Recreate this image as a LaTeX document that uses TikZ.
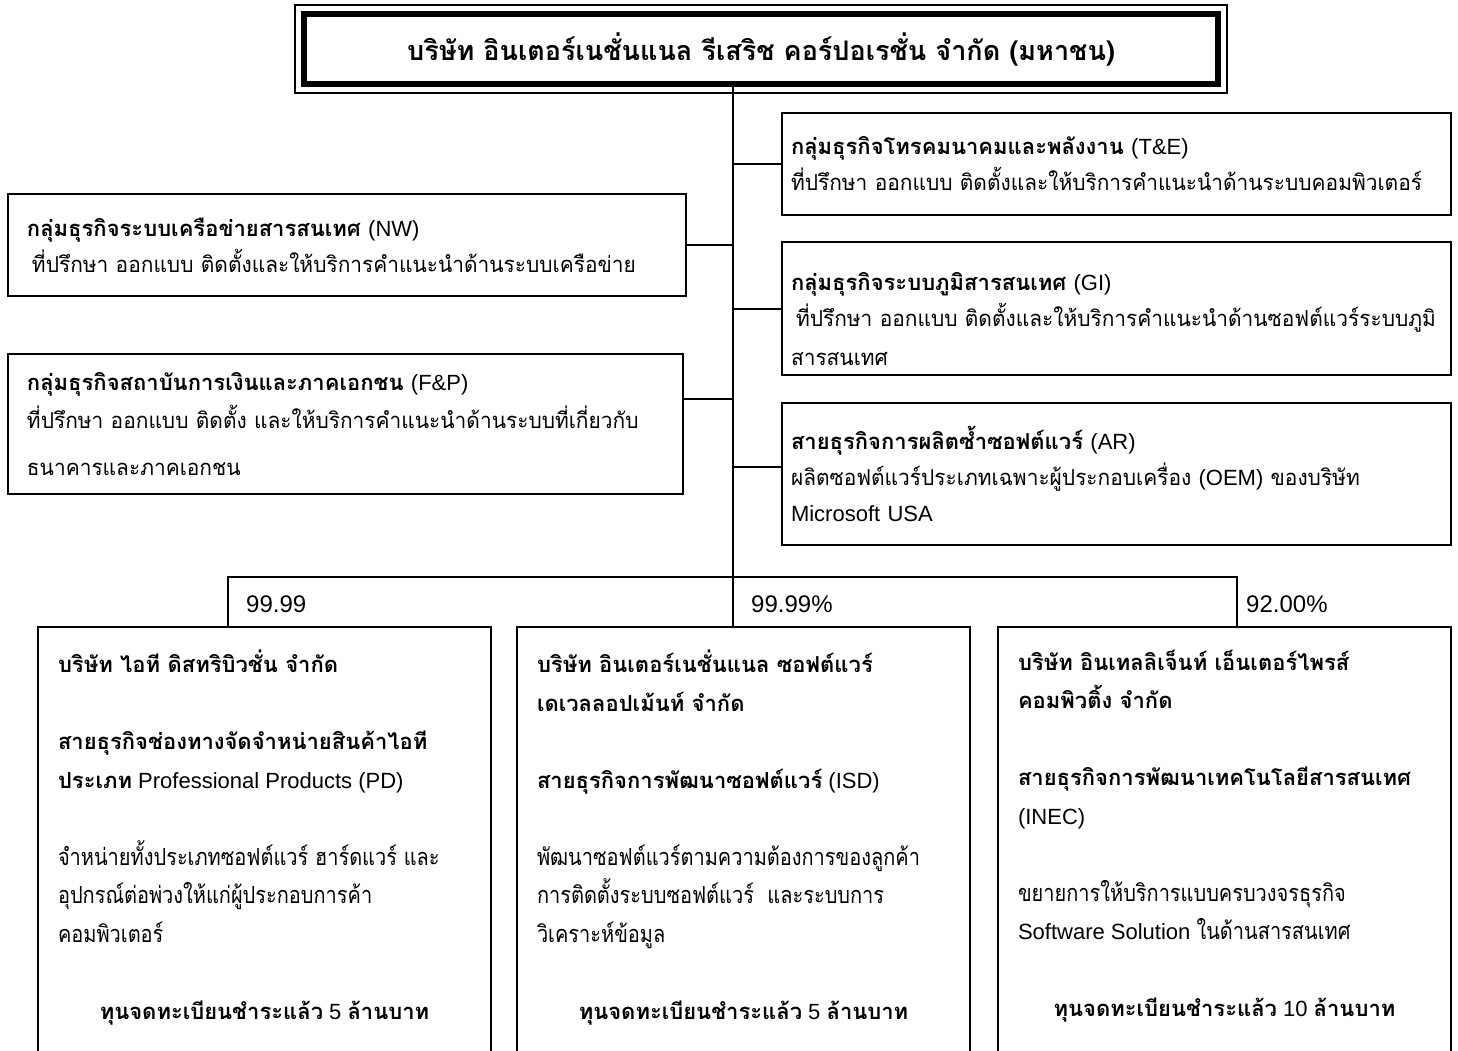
\documentclass[tikz,border=0pt]{standalone}
\usepackage{fontspec}
\setmainfont{Liberation Sans}
\newfontfamily\thaifont[Script=Thai]{Loma}
\newfontfamily\thaimid[Script=Thai, FakeStretch=0.95]{Loma}
\newfontfamily\thaibody[Script=Thai, FakeStretch=0.85]{Loma}
\usetikzlibrary{calc}

\newcommand{\thb}[1]{{\thaifont\bfseries #1}}
\newcommand{\thr}[1]{{\thaimid #1}}
\newcommand{\ths}[1]{{\thaibody\fontsize{23.5}{38.5}\selectfont #1}}
\newcommand{\subtext}[1]{\parbox[t][470pt][t]{413pt}{#1}}

\tikzset{
  groupbox/.style={draw, line width=2pt, rectangle, anchor=north west, align=left,
    inner xsep=10pt, inner ysep=0pt, font=\fontsize{22}{36}\selectfont},
  subbox/.style={draw, line width=2pt, rectangle, anchor=north west,
    inner xsep=20pt, inner ysep=23pt, font=\fontsize{22}{38.5}\selectfont},
  pct/.style={anchor=west, inner sep=0pt, font=\fontsize{24}{24}\selectfont},
  link/.style={line width=2pt},
}

\begin{document}
\begin{tikzpicture}[x=1pt, y=-1pt]
\clip (0,0) rectangle (1458,1050);
\fill[white] (0,0) rectangle (1458,1050);

% head office
\node[draw, line width=6pt, rectangle, anchor=north west, minimum width=914pt, minimum height=70pt,
  font=\fontsize{27}{27}\selectfont] (ipc) at (301,11)
  {\thb{บริษัท อินเตอร์เนชั่นแนล รีเสริช คอร์ปอเรชั่น จำกัด (มหาชน)}};
\draw[line width=1.5pt] ([shift={(-6,-6)}]ipc.north west) rectangle ([shift={(6,6)}]ipc.south east);

% business groups, right
\node[groupbox, text width=651pt, minimum height=102pt, inner xsep=9pt] (te) at (781,112)
  {\thb{กลุ่มธุรกิจโทรคมนาคมและพลังงาน} (T\&E)\\
   \thr{ที่ปรึกษา ออกแบบ ติดตั้งและให้บริการคำแนะนำด้านระบบคอมพิวเตอร์}};
\node[groupbox, text width=651pt, minimum height=133pt, inner xsep=9pt] (gi) at (781,241)
  {\rule{0pt}{40pt}\thb{กลุ่มธุรกิจระบบภูมิสารสนเทศ} (GI)\\
   \hspace*{5pt}\thr{ที่ปรึกษา ออกแบบ ติดตั้งและให้บริการคำแนะนำด้านซอฟต์แวร์ระบบภูมิ}\\[3pt]
   \thr{สารสนเทศ}};
\node[groupbox, text width=651pt, minimum height=142pt, inner xsep=9pt] (ar) at (781,402)
  {\thb{สายธุรกิจการผลิตซ้ำซอฟต์แวร์} (AR)\\
   \thr{ผลิตซอฟต์แวร์ประเภทเฉพาะผู้ประกอบเครื่อง} (OEM) \thr{ของบริษัท}\\
   Microsoft USA};

% business groups, left
\node[groupbox, text width=640pt, minimum height=102pt, inner xsep=19pt] (nw) at (7,193)
  {\thb{กลุ่มธุรกิจระบบเครือข่ายสารสนเทศ} (NW)\\
   \hspace*{5pt}\thr{ที่ปรึกษา ออกแบบ ติดตั้งและให้บริการคำแนะนำด้านระบบเครือข่าย}};
\node[groupbox, text width=637pt, minimum height=140pt, inner xsep=19pt] (fp) at (7,353)
  {\thb{กลุ่มธุรกิจสถาบันการเงินและภาคเอกชน} (F\&P)\\[2pt]
   \thr{ที่ปรึกษา ออกแบบ ติดตั้ง และให้บริการคำแนะนำด้านระบบที่เกี่ยวกับ}\\[11pt]
   \thr{ธนาคารและภาคเอกชน}};

% subsidiaries
\node[subbox] (pd) at (37,626) {\subtext{%
  \thb{บริษัท ไอที ดิสทริบิวชั่น จำกัด}\\[38.5pt]
  \thb{สายธุรกิจช่องทางจัดจำหน่ายสินค้าไอที}\\
  \thb{ประเภท} Professional Products (PD)\\[38.5pt]
  \ths{จำหน่ายทั้งประเภทซอฟต์แวร์ ฮาร์ดแวร์ และ}\\
  \ths{อุปกรณ์ต่อพ่วงให้แก่ผู้ประกอบการค้า}\\
  \ths{คอมพิวเตอร์}\par\vspace{38.5pt}
  {\centering\thb{ทุนจดทะเบียนชำระแล้ว} 5 \thb{ล้านบาท}\par}}};
\node[subbox] (isd) at (516,626) {\subtext{%
  \thb{บริษัท อินเตอร์เนชั่นแนล ซอฟต์แวร์}\\
  \thb{เดเวลลอปเม้นท์ จำกัด}\\[38.5pt]
  \thb{สายธุรกิจการพัฒนาซอฟต์แวร์} (ISD)\\[38.5pt]
  \ths{พัฒนาซอฟต์แวร์ตามความต้องการของลูกค้า}\\
  \ths{การติดตั้งระบบซอฟต์แวร์~ และระบบการ}\\
  \ths{วิเคราะห์ข้อมูล}\par\vspace{38.5pt}
  {\centering\thb{ทุนจดทะเบียนชำระแล้ว} 5 \thb{ล้านบาท}\par}}};
\node[subbox] (inec) at (997,626) {\subtext{%
  \thb{บริษัท อินเทลลิเจ็นท์ เอ็นเตอร์ไพรส์}\\
  \thb{คอมพิวติ้ง จำกัด}\\[38.5pt]
  \thb{สายธุรกิจการพัฒนาเทคโนโลยีสารสนเทศ}\\
  (INEC)\\[38.5pt]
  \ths{ขยายการให้บริการแบบครบวงจรธุรกิจ}\\
  Software Solution \ths{ในด้านสารสนเทศ}\par\vspace{38.5pt}
  {\centering\thb{ทุนจดทะเบียนชำระแล้ว} 10 \thb{ล้านบาท}\par}}};

% holdings
\node[pct] (p1) at (246,604) {99.99};
\node[pct] (p2) at (751,604) {99.99\%};
\node[pct] (p3) at (1246,604) {92.00\%};

% lines
\coordinate (hub) at (733,577);
\coordinate (busL) at (228,577);
\coordinate (busR) at (1237,577);
\draw[link] (ipc.south -| hub) -- (hub);
\draw[link] (pd.north -| busL) -- (busL) -- (busR) -- (inec.north -| busR);
\draw[link] (hub) -- (isd.north -| hub);
\draw[link] (te.west) -- (te.west -| hub);
\draw[link] (gi.west) -- (gi.west -| hub);
\draw[link] ([yshift=7pt]ar.west) coordinate (arj) -- (arj -| hub);
\draw[link] (nw.east) -- (nw.east -| hub);
\draw[link] ([yshift=25pt]fp.east) coordinate (fpj) -- (fpj -| hub);
\end{tikzpicture}
\end{document}
